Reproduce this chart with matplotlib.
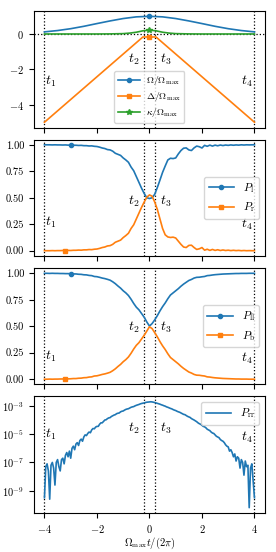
import numpy as np
import matplotlib
matplotlib.use('Agg')
from matplotlib import pyplot as plt

plt.rcParams['font.family'] = 'serif'
plt.rcParams['font.serif'] = ['cmr10', 'DejaVu Serif']
plt.rcParams['mathtext.fontset'] = 'cm'
plt.rcParams['axes.formatter.use_mathtext'] = True
plt.rcParams['font.size'] = 7.5

# time marks
t_marks = [-4.0, -0.22, 0.22, 4.0]
t_names = [r'$t_1$', r'$t_2$', r'$t_3$', r'$t_4$']

# panel 1: pulse shapes
t_omega = [-4.0, -3.5, -3.0, -2.5, -2.0, -1.5, -1.0, -0.5, 0.0, 0.5, 1.0, 1.5, 2.0, 2.5, 3.0, 3.5, 4.0]
omega = [0.12, 0.195, 0.30, 0.435, 0.59, 0.74, 0.875, 0.97, 1.0, 0.97, 0.875, 0.74, 0.59, 0.435, 0.30, 0.195, 0.12]
t_delta = [-4.0, -0.25, 0.0, 0.25, 4.0]
delta = [-5.0, -0.17, -0.17, -0.17, -5.0]
t_kappa = [-4.0, -2.0, -1.5, -1.0, -0.75, -0.5, -0.25, 0.0, 0.25, 0.5, 0.75, 1.0, 1.5, 2.0, 4.0]
kappa = [0.0, 0.0, 0.005, 0.02, 0.05, 0.1, 0.18, 0.22, 0.18, 0.1, 0.05, 0.02, 0.005, 0.0, 0.0]

# panels 2 and 3, sampled every 0.1
t_p = np.linspace(-4.0, 4.0, 81)
p_l = [1.000, 1.000, 1.000, 0.999, 1.000, 0.999, 0.999, 0.998, 0.999, 0.997,
       0.998, 0.996, 0.996, 0.994, 0.995, 0.992, 0.992, 0.989, 0.990, 0.986,
       0.984, 0.978, 0.970, 0.965, 0.955, 0.952, 0.940, 0.920, 0.910, 0.900,
       0.876, 0.857, 0.835, 0.790, 0.755, 0.700, 0.645, 0.590, 0.540, 0.500,
       0.493, 0.500, 0.533, 0.597, 0.667, 0.740, 0.800, 0.857, 0.873, 0.870,
       0.876, 0.914, 0.946, 0.968, 0.971, 0.952, 0.946, 0.971, 0.988, 0.982,
       0.970, 0.995, 0.986, 0.997, 0.988, 0.997, 0.991, 0.998, 0.993, 0.998,
       0.995, 0.999, 0.996, 0.999, 0.997, 1.000, 0.998, 1.000, 0.999, 1.000,
       1.000]
p_r = [0.000, 0.000, 0.000, 0.001, 0.000, 0.001, 0.001, 0.002, 0.001, 0.003,
       0.002, 0.004, 0.004, 0.006, 0.005, 0.008, 0.008, 0.011, 0.010, 0.014,
       0.016, 0.022, 0.030, 0.035, 0.045, 0.048, 0.060, 0.080, 0.090, 0.100,
       0.124, 0.143, 0.165, 0.210, 0.245, 0.300, 0.355, 0.410, 0.460, 0.505,
       0.527, 0.515, 0.460, 0.390, 0.300, 0.210, 0.150, 0.130, 0.125, 0.128,
       0.120, 0.090, 0.060, 0.035, 0.030, 0.050, 0.052, 0.030, 0.012, 0.018,
       0.030, 0.005, 0.014, 0.003, 0.012, 0.003, 0.009, 0.002, 0.007, 0.002,
       0.005, 0.001, 0.004, 0.001, 0.003, 0.000, 0.002, 0.000, 0.001, 0.000,
       0.000]
p_ll = [1.000, 1.000, 0.999, 1.000, 0.999, 0.999, 0.998, 0.998, 0.997, 0.997,
        0.996, 0.994, 0.994, 0.991, 0.990, 0.986, 0.985, 0.980, 0.978, 0.970,
        0.968, 0.962, 0.955, 0.950, 0.943, 0.935, 0.920, 0.902, 0.880, 0.860,
        0.835, 0.815, 0.790, 0.755, 0.715, 0.680, 0.655, 0.620, 0.585, 0.540,
        0.502, 0.525, 0.560, 0.600, 0.645, 0.685, 0.720, 0.760, 0.795, 0.815,
        0.835, 0.855, 0.878, 0.898, 0.915, 0.932, 0.942, 0.955, 0.962, 0.963,
        0.967, 0.970, 0.978, 0.980, 0.984, 0.987, 0.989, 0.991, 0.993, 0.994,
        0.995, 0.996, 0.997, 0.998, 0.998, 0.999, 0.999, 0.999, 1.000, 1.000,
        1.000]
p_b = [0.000, 0.000, 0.001, 0.000, 0.001, 0.001, 0.002, 0.002, 0.003, 0.003,
       0.004, 0.006, 0.006, 0.009, 0.010, 0.014, 0.015, 0.020, 0.022, 0.030,
       0.032, 0.038, 0.045, 0.050, 0.057, 0.065, 0.080, 0.098, 0.120, 0.140,
       0.165, 0.185, 0.210, 0.245, 0.285, 0.320, 0.345, 0.380, 0.415, 0.455,
       0.495, 0.478, 0.440, 0.400, 0.355, 0.315, 0.280, 0.240, 0.205, 0.185,
       0.165, 0.145, 0.122, 0.102, 0.085, 0.068, 0.058, 0.045, 0.038, 0.037,
       0.033, 0.030, 0.022, 0.020, 0.016, 0.013, 0.011, 0.009, 0.007, 0.006,
       0.005, 0.004, 0.003, 0.002, 0.002, 0.001, 0.001, 0.001, 0.000, 0.000,
       0.000]

# panel 4: log10 of P_rr, sampled every 0.05
prr_log10 = [-9.5, -7.3, -7.1, -7.6, -9.6, -7.2, -7.0, -7.4, -8.6, -7.0,
             -6.8, -7.3, -7.6, -6.8, -6.7, -7.1, -6.5, -6.3, -6.6, -6.2,
             -6.7, -6.0, -5.85, -6.1, -5.7, -5.6, -5.8, -5.45, -5.35, -5.5,
             -5.2, -5.05, -5.1, -4.95, -4.85, -4.9, -4.7, -4.6, -4.62, -4.5,
             -4.45, -4.45, -4.3, -4.2, -4.2, -4.1, -4.0, -3.98, -3.9, -3.85,
             -3.83, -3.75, -3.7, -3.65, -3.62, -3.55, -3.52, -3.5, -3.42, -3.38,
             -3.36, -3.3, -3.25, -3.22, -3.2, -3.15, -3.1, -3.07, -3.05, -3.0,
             -2.96, -2.93, -2.9, -2.86, -2.83, -2.81, -2.79, -2.76, -2.74, -2.73,
             -2.72, -2.71, -2.72, -2.74, -2.76, -2.79, -2.82, -2.85, -2.88, -2.92,
             -2.95, -2.99, -3.02, -3.07, -3.1, -3.14, -3.18, -3.21, -3.26, -3.3,
             -3.33, -3.38, -3.42, -3.45, -3.5, -3.55, -3.6, -3.62, -3.68, -3.74,
             -3.78, -3.82, -3.9, -3.95, -4.0, -4.06, -4.12, -4.2, -4.26, -4.3,
             -4.38, -4.45, -4.48, -4.55, -4.65, -4.7, -4.75, -4.85, -4.92, -4.95,
             -5.05, -5.15, -5.2, -5.25, -5.38, -5.45, -5.5, -5.6, -5.75, -5.85,
             -5.9, -6.2, -6.1, -6.3, -6.6, -6.4, -6.9, -6.6, -6.7, -7.4,
             -6.8, -7.0, -7.9, -6.9, -7.3, -7.2, -10.2, -7.4, -7.1, -8.3,
             -9.5]
t_rr = np.linspace(-4.0, 4.0, len(prr_log10))
p_rr = 10.0 ** np.array(prr_log10)


def marks(ax, ys):
    for x in t_marks:
        ax.axvline(x, color='k', ls=':', lw=0.9, zorder=1)
    for x, y, s in zip([-3.75, -0.6, 0.6, 3.7], ys, t_names):
        ax.text(x, y, s, fontsize=10, ha='center', va='center')


fig, axs = plt.subplots(4, 1, sharex=True, figsize=(2.76, 5.52), dpi=100)
plt.subplots_adjust(left=0.123, right=0.96, top=0.980, bottom=0.0707, hspace=0.103)

ax = axs[0]
ax.axhline(0, color='k', ls=':', lw=0.9, zorder=1)
ax.plot(t_omega, omega, '-o', ms=3, markevery=[8], lw=1.2, label=r'$\Omega/\Omega_{\max}$')
ax.plot(t_delta, delta, '-s', ms=3, markevery=[2], lw=1.2, label=r'$\Delta/\Omega_{\max}$')
ax.plot(t_kappa, kappa, '-*', ms=4, markevery=[7], lw=1.2, label=r'$\kappa/\Omega_{\max}$')
ax.set_yticks([-4, -2, 0])
marks(ax, [-2.7, -1.45, -1.45, -2.7])
ax.legend(loc='lower center', fontsize=7, handlelength=2.3, labelspacing=0.3,
          borderpad=0.35, handletextpad=0.6)

ax = axs[1]
ax.plot(t_p, p_l, '-o', ms=3, markevery=[10], lw=1.2, label=r'$P_{\rm l}$')
ax.plot(t_p, p_r, '-s', ms=3, markevery=[8], lw=1.2, label=r'$P_{\rm r}$')
ax.set_yticks([0, 0.25, 0.5, 0.75, 1.0])
ax.set_yticklabels(['0.00', '0.25', '0.50', '0.75', '1.00'])
marks(ax, [0.27, 0.47, 0.47, 0.25])
ax.legend(loc='center right', fontsize=8, handlelength=2.3)

ax = axs[2]
ax.plot(t_p, p_ll, '-o', ms=3, markevery=[10], lw=1.2, label=r'$P_{\rm ll}$')
ax.plot(t_p, p_b, '-s', ms=3, markevery=[8], lw=1.2, label=r'$P_{\rm b}$')
ax.set_yticks([0, 0.25, 0.5, 0.75, 1.0])
ax.set_yticklabels(['0.00', '0.25', '0.50', '0.75', '1.00'])
marks(ax, [0.22, 0.49, 0.49, 0.2])
ax.legend(loc='center right', fontsize=8, handlelength=2.3)

ax = axs[3]
ax.plot(t_rr, p_rr, '-', lw=1.2, label=r'$P_{\rm rr}$')
ax.set_yscale('log')
ax.set_yticks([1e-9, 1e-7, 1e-5, 1e-3])
marks(ax, [1e-5, 2.5e-5, 2.5e-5, 6e-6])
ax.legend(loc='upper right', fontsize=8, handlelength=2.3)
ax.set_xticks([-4, -2, 0, 2, 4])
ax.set_xlabel(r'$\Omega_{\max}t/(2\pi)$', labelpad=1)

plt.savefig('out.png', dpi=100)
